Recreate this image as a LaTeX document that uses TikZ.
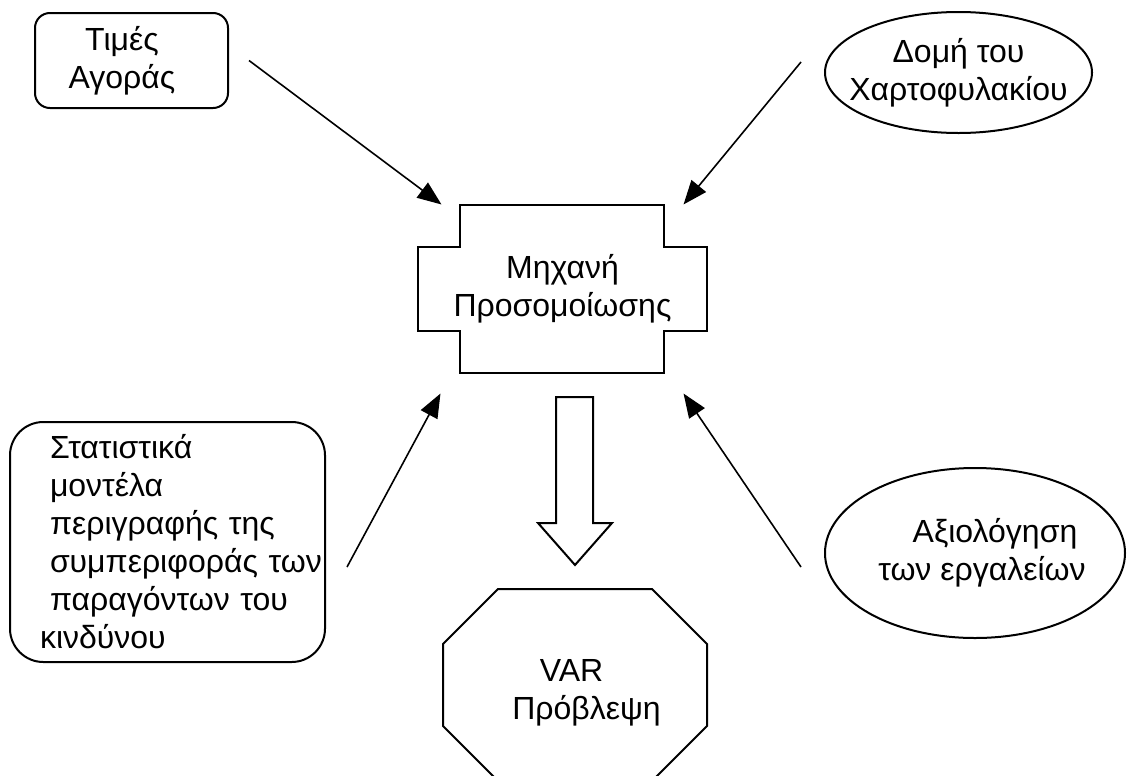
\documentclass[tikz,border=0pt]{standalone}
\usepackage{xcolor}
\usepackage{fontspec}
\setmainfont{Liberation Sans}
\usepackage{tikz}
\usetikzlibrary{shapes.geometric, arrows.meta, positioning}
\newlength{\pxu}
\setlength{\pxu}{0.375pt}
\definecolor{mydark}{RGB}{0,0,0}
\tikzset{
  txt/.style={font=\fontsize{12}{14.25}\selectfont, align=center},
  roundbox/.style={txt, rectangle, draw=mydark, line width=0.75pt,
    rounded corners=5.6pt, inner sep=0pt},
  bigbox/.style={txt, rectangle, draw=mydark, line width=0.75pt,
    rounded corners=12.5pt, align=left, inner ysep=0pt},
  ovalnode/.style={txt, ellipse, draw=mydark, line width=0.75pt,
    inner ysep=0pt, inner xsep=-20*\pxu},
  plainnode/.style={txt, rectangle, inner sep=0pt},
  outline/.style={draw=mydark, line width=0.75pt, line join=miter},
  arrow/.style={-{Triangle[length=9pt, width=7pt]}, line width=0.6pt, color=mydark}
}

\begin{document}
\begin{tikzpicture}[x=\pxu, y=-\pxu]
  \useasboundingbox (0,0) rectangle (1128,775);
  \clip (0,0) rectangle (1128,775);

  % Inputs
  \node[roundbox, minimum width=193*\pxu, minimum height=95*\pxu] (prices) at (131.5,60.5)
    {Τιμές\hspace{19\pxu}\mbox{}\\Αγοράς\hspace{19\pxu}\mbox{}};
  \node[ovalnode, minimum width=267*\pxu, minimum height=121*\pxu] (portfolio) at (958.5,72.5)
    {Δομή του\\Χαρτοφυλακίου};
  \node[bigbox, minimum width=315*\pxu, minimum height=240*\pxu, text width=295*\pxu,
    inner xsep=10*\pxu] (stats) at (167.5,542)
    {\hspace*{30\pxu}Στατιστικά\\
     \hspace*{30\pxu}μοντέλα\\
     \hspace*{30\pxu}περιγραφής~της\\
     \hspace*{30\pxu}συμπεριφοράς~των\\
     \hspace*{30\pxu}παραγόντων~του\\
     \hspace*{20\pxu}κινδύνου};
  \node[ovalnode, minimum width=300*\pxu, minimum height=170*\pxu] (tools) at (975,553)
    {\hspace*{40\pxu}Αξιολόγηση\\\hspace*{14\pxu}των εργαλείων};

  % Simulation engine
  \node[plainnode, minimum width=289*\pxu, minimum height=168*\pxu] (engine) at (562.5,289)
    {Μηχανή\\Προσομοίωσης};
  \draw[outline] (460,205) -- (664,205) -- (664,247) -- (707,247) -- (707,331)
    -- (664,331) -- (664,373) -- (460,373) -- (460,331) -- (418,331)
    -- (418,247) -- (460,247) -- cycle;

  % VAR forecast
  \node[plainnode] (var) at (571.5,693) {VAR\\\hspace*{30\pxu}Πρόβλεψη};
  \draw[outline] (498,589) -- (652,589) -- (707,644) -- (707,726) -- (652,781)
    -- (498,781) -- (443,726) -- (443,644) -- cycle;

  % Block arrow
  \draw[outline] (556,397) -- (593,397) -- (593,523) -- (612,523) -- (575,565)
    -- (538,523) -- (556,523) -- cycle;

  % Arrows into the engine
  \draw[arrow] ([xshift=20*\pxu]prices.east) -- ([xshift=24*\pxu]engine.north west);
  \draw[arrow] ([xshift=-23*\pxu, yshift=10.5*\pxu]portfolio.west) -- ([xshift=-24*\pxu]engine.north east);
  \draw[arrow] ([xshift=21*\pxu, yshift=-25*\pxu]stats.east) -- ([xshift=23*\pxu, yshift=-20*\pxu]engine.south west);
  \draw[arrow] ([xshift=-23*\pxu, yshift=-14*\pxu]tools.west) -- ([xshift=-24*\pxu, yshift=-20*\pxu]engine.south east);
\end{tikzpicture}
\end{document}
